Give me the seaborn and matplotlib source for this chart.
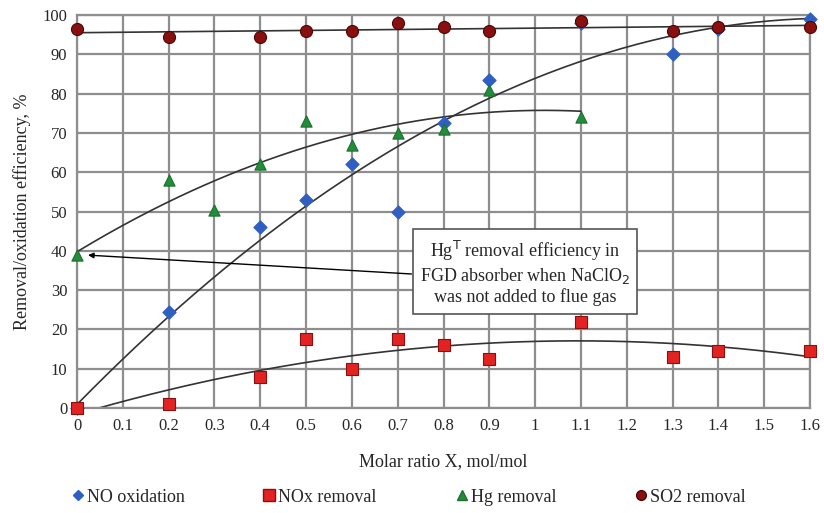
import numpy as np
import pandas as pd
import matplotlib
matplotlib.use("Agg")
import matplotlib.pyplot as plt
import seaborn as sns

# ---- data ----
no_x = [0, 0.2, 0.4, 0.5, 0.6, 0.7, 0.8, 0.9, 1.1, 1.3, 1.4, 1.6]
no_y = [0, 24.5, 46, 53, 62, 50, 72.5, 83.5, 98, 90, 96.5, 99]
nox_x = [0, 0.2, 0.4, 0.5, 0.6, 0.7, 0.8, 0.9, 1.1, 1.3, 1.4, 1.6]
nox_y = [0, 1, 8, 17.5, 10, 17.5, 16, 12.5, 22, 13, 14.5, 14.5]
hg_x = [0, 0.2, 0.3, 0.4, 0.5, 0.6, 0.7, 0.8, 0.9, 1.1]
hg_y = [39, 58, 50.5, 62, 73, 67, 70, 71, 81, 74]
so2_x = [0, 0.2, 0.4, 0.5, 0.6, 0.7, 0.8, 0.9, 1.1, 1.3, 1.4, 1.6]
so2_y = [96.5, 94.5, 94.5, 96, 96, 98, 97, 96, 98.5, 96, 97, 97]

series_names = ["NO oxidation", "NOx removal", "Hg removal", "SO2 removal"]
x_ticks = [0, 0.1, 0.2, 0.3, 0.4, 0.5, 0.6, 0.7, 0.8, 0.9, 1, 1.1, 1.2, 1.3, 1.4, 1.5, 1.6]
x_tick_labels = ["0", "0.1", "0.2", "0.3", "0.4", "0.5", "0.6", "0.7", "0.8", "0.9", "1",
                 "1.1", "1.2", "1.3", "1.4", "1.5", "1.6"]
y_ticks = [0, 10, 20, 30, 40, 50, 60, 70, 80, 90, 100]

sns.set_theme(style="white")
plt.rcParams["font.family"] = ["Liberation Serif", "DejaVu Serif"]

fig = plt.figure(figsize=(8.24, 5.13), dpi=100)
ax = fig.add_axes([77 / 824, 1 - 408 / 513, (810 - 77) / 824, (408 - 15) / 513])

# grid
for xv in x_ticks:
    ax.axvline(xv, color="#8e8e8e", lw=1.6, zorder=0)
for yv in y_ticks:
    ax.axhline(yv, color="#8e8e8e", lw=1.6, zorder=0)

# trend lines (fitted to read values)
def trend(xs, ys, deg, x0, x1):
    c = np.polyfit(xs, ys, deg)
    xx = np.linspace(x0, x1, 200)
    return xx, np.polyval(c, xx)

xx, yy = trend(no_x, no_y, 2, 0, 1.6)
ax.plot(xx, yy, color="#333333", lw=1.2, zorder=2)
xx, yy = trend(nox_x, nox_y, 2, 0, 1.6)
ax.plot(xx, yy, color="#333333", lw=1.2, zorder=2)
xx, yy = trend(hg_x, hg_y, 2, 0, 1.1)
ax.plot(xx, yy, color="#333333", lw=1.2, zorder=2)
xx, yy = trend(so2_x, so2_y, 1, 0, 1.6)
ax.plot(xx, yy, color="#333333", lw=1.2, zorder=2)

df = pd.concat([
    pd.DataFrame({"x": no_x, "y": no_y, "s": series_names[0]}),
    pd.DataFrame({"x": nox_x, "y": nox_y, "s": series_names[1]}),
    pd.DataFrame({"x": hg_x, "y": hg_y, "s": series_names[2]}),
    pd.DataFrame({"x": so2_x, "y": so2_y, "s": series_names[3]}),
])
palette = {series_names[0]: "#2f5fc0", series_names[1]: "#e32222",
           series_names[2]: "#1f8f3c", series_names[3]: "#8a1010"}
markers = {series_names[0]: "D", series_names[1]: "s",
           series_names[2]: "^", series_names[3]: "o"}
edges = {series_names[0]: "#2f5fc0", series_names[1]: "#8a1010",
         series_names[2]: "#1f6f2c", series_names[3]: "#4a0505"}
sizes = {series_names[0]: 45, series_names[1]: 75, series_names[2]: 65, series_names[3]: 75}
for name in series_names:
    sub = df[df["s"] == name]
    sns.scatterplot(data=sub, x="x", y="y", marker=markers[name], color=palette[name],
                    edgecolor=edges[name], linewidth=0.8, s=sizes[name], ax=ax,
                    zorder=3, legend=False, clip_on=False)

ax.set_xlim(0, 1.6)
ax.set_ylim(0, 100)
ax.set_xticks(x_ticks)
ax.set_xticklabels(x_tick_labels)
ax.set_yticks(y_ticks)
ax.tick_params(axis="both", labelsize=12, length=0, pad=7)
ax.set_xlabel("Molar ratio X, mol/mol", fontsize=13, labelpad=14)
ax.set_ylabel("Removal/oxidation efficiency, %", fontsize=13, labelpad=8)
for sp in ax.spines.values():
    sp.set_color("#8e8e8e")
    sp.set_linewidth(1.6)

# annotation
ax.annotate("", xy=(0.024, 38.9), xytext=(0.73, 34.1),
            arrowprops=dict(arrowstyle="-|>", color="black", lw=1.0, mutation_scale=8,
                            shrinkA=0, shrinkB=0),
            zorder=4)
ax.text(0.978, 34.5,
        "Hg$^{\\mathrm{T}}$ removal efficiency in\nFGD absorber when NaClO$_2$\nwas not added to flue gas",
        ha="center", va="center", fontsize=13, linespacing=1.2, zorder=5,
        bbox=dict(boxstyle="square,pad=0.4", fc="white", ec="#555555", lw=1.2))

# legend
from matplotlib.lines import Line2D
handles = [Line2D([], [], ls="none", marker=markers[n], color=palette[n],
                  markeredgecolor=edges[n], markersize=ms)
           for n, ms in zip(series_names, [5, 8, 7, 7])]
fig.legend(handles, series_names, loc="center", bbox_to_anchor=(408 / 824, 1 - 497 / 513), ncol=4,
           frameon=False, fontsize=13, handletextpad=0.1, columnspacing=4.3,
           handlelength=0.8)

fig.savefig("out.png", dpi=100)
